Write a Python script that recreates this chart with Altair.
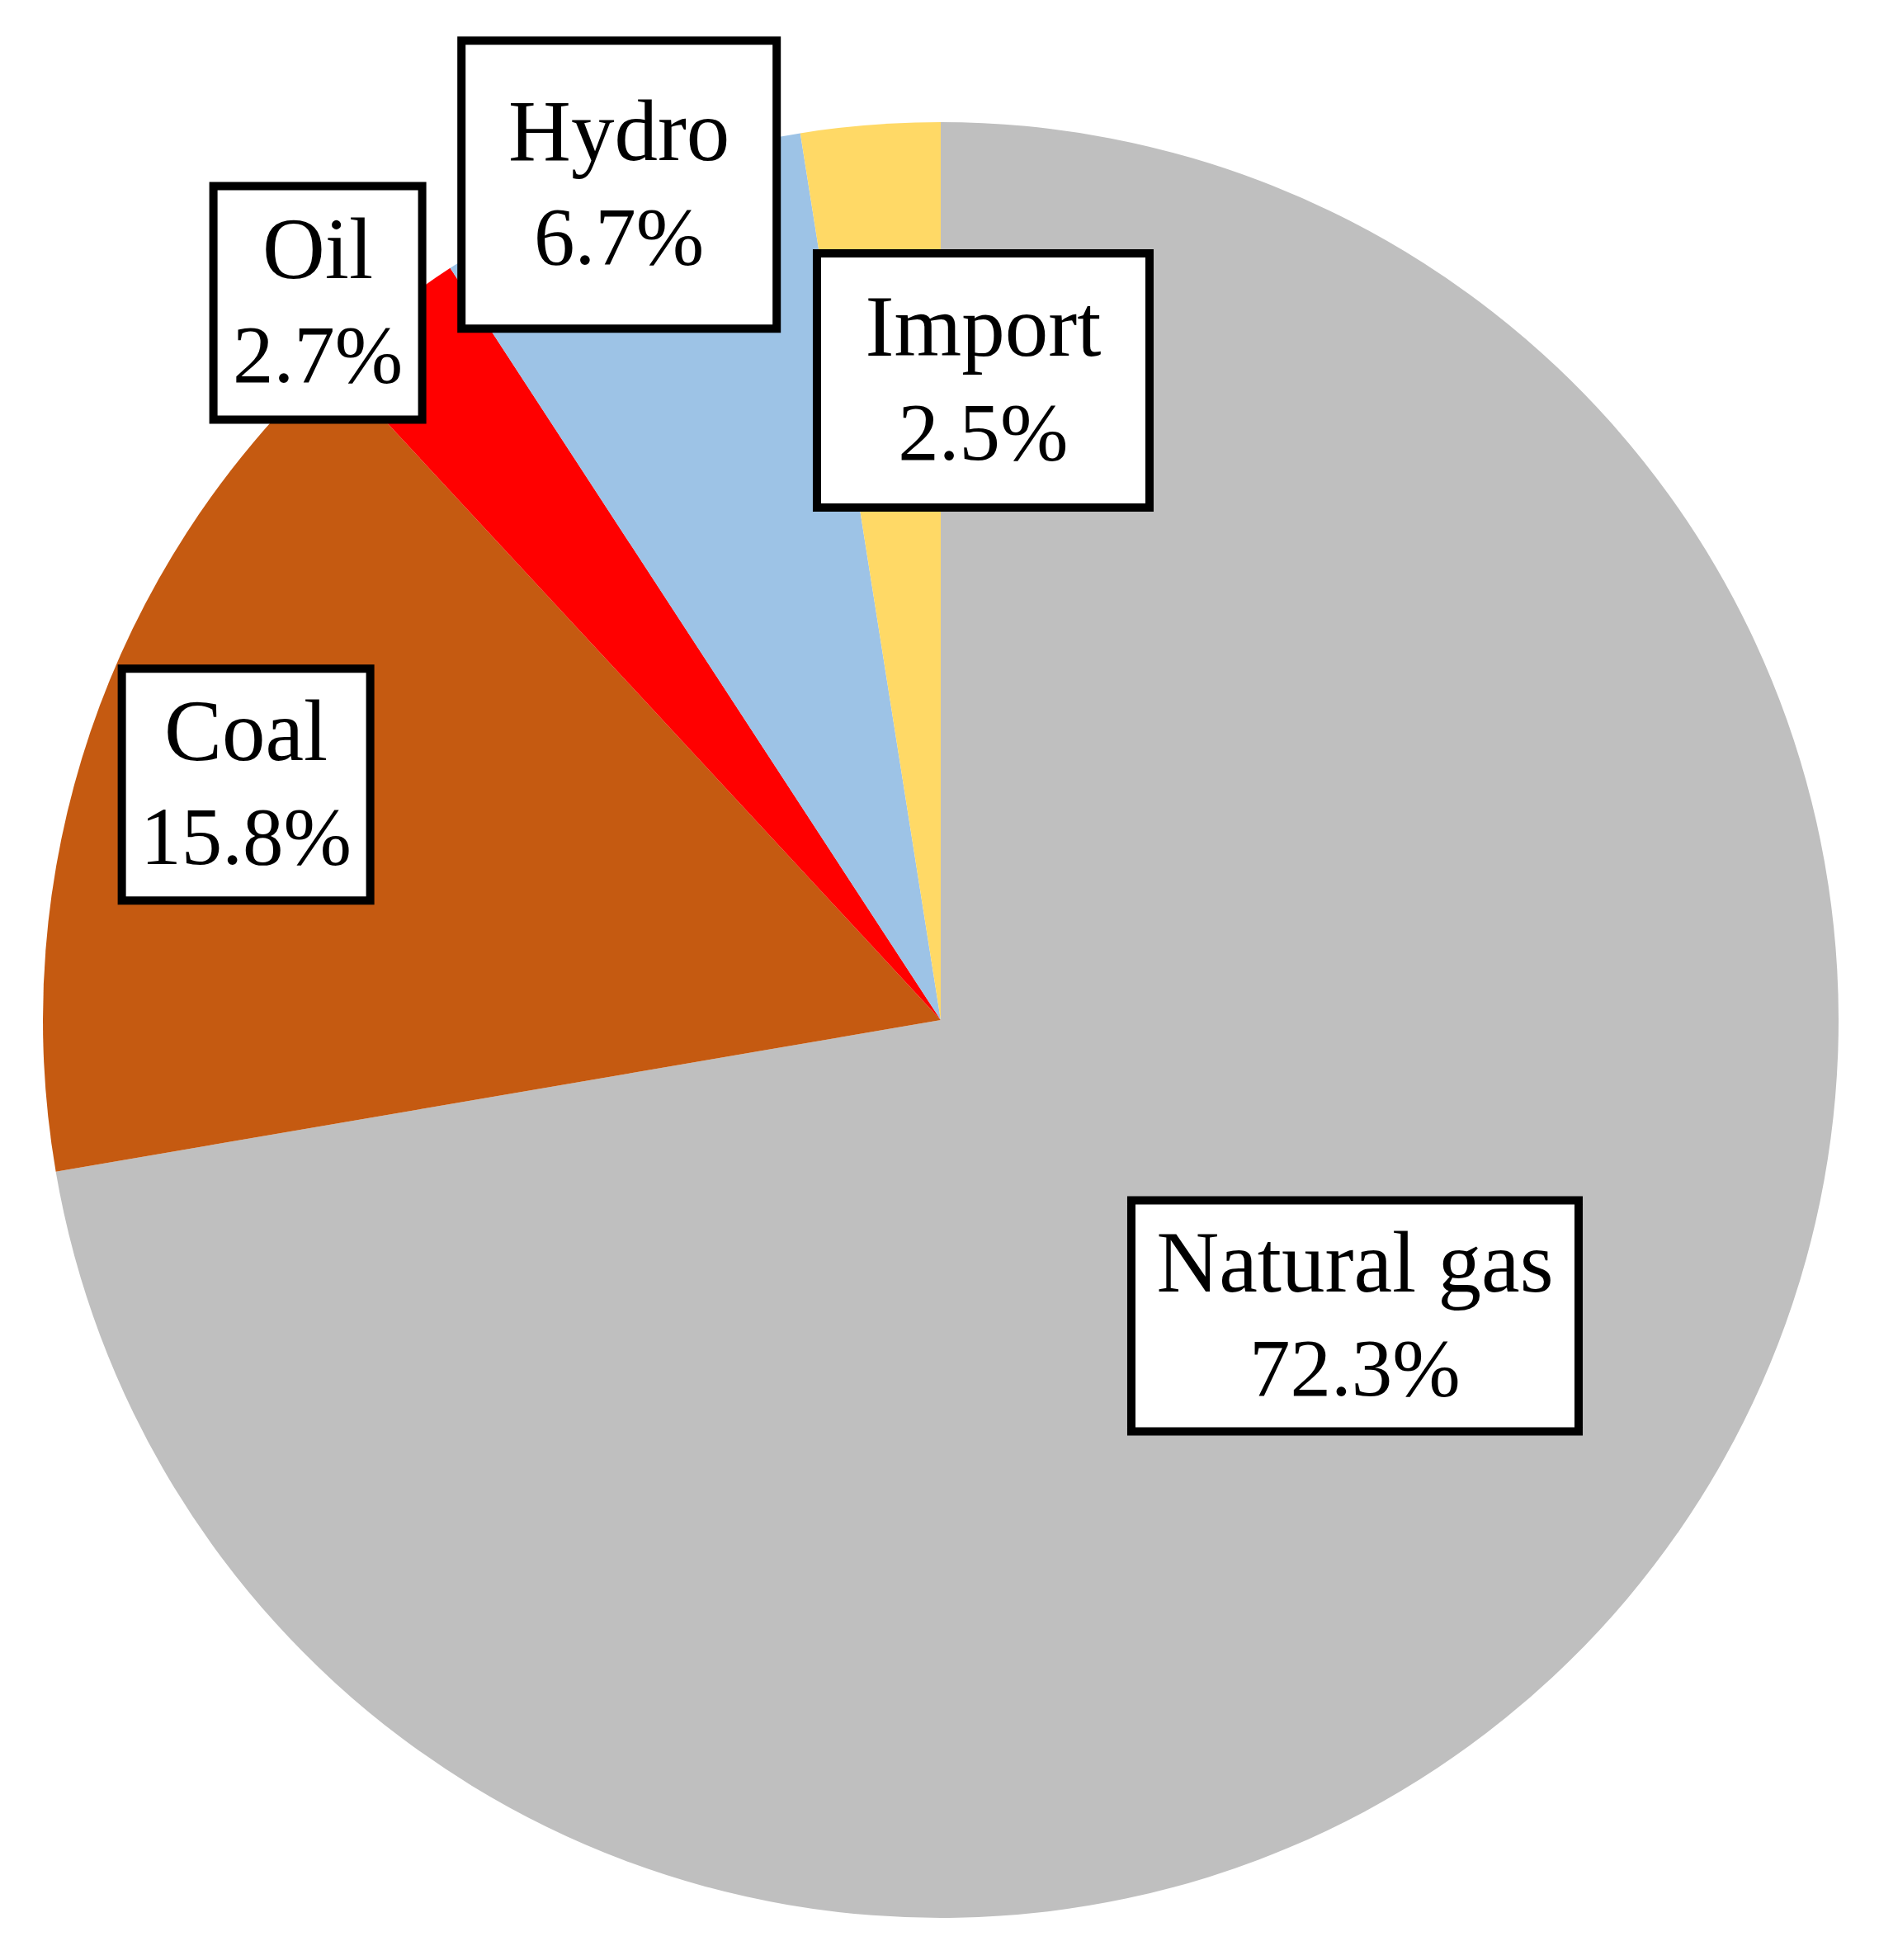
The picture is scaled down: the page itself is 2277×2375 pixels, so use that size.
import math
import altair as alt
import pandas as pd

# ---- data ----
categories = ["Natural gas", "Coal", "Oil", "Hydro", "Import"]
shares = [72.3, 15.8, 2.7, 6.7, 2.5]
colors = ["#BFBFBF", "#C55A11", "#FF0000", "#9DC3E6", "#FFD966"]

# ---- label layout (radial fraction of pie radius, angular nudge from slice middle) ----
label_radius = [0.567, 0.817, 1.058, 0.997, 0.714]
label_nudge_deg = [-4.6, 0.0, -3.0, 0.0, 8.3]
box_w = [542, 301, 253, 382, 403]
box_h = [280, 281, 283, 349, 308]

R = 1088
total = sum(shares)
rows = []
cum = 0.0
for i, (c, s) in enumerate(zip(categories, shares)):
    mid = (cum + s / 2) / total * 360.0
    cum += s
    a = math.radians(mid + label_nudge_deg[i])
    ux = label_radius[i] * math.sin(a)
    uy = label_radius[i] * math.cos(a)
    hw = box_w[i] / 2 / R
    hh = box_h[i] / 2 / R
    rows.append(dict(cat=c, share=s, idx=i, pct=f"{s:.1f}%",
                     x=ux, y=uy, x0=ux - hw, x1=ux + hw, y0=uy - hh, y1=uy + hh))
df = pd.DataFrame(rows)

xs = alt.Scale(domain=[-1, 1], nice=False, zero=False)
ys = alt.Scale(domain=[-1, 1], nice=False, zero=False)

base = alt.Chart(df)

pie = base.mark_arc(outerRadius=R).encode(
    theta=alt.Theta("share:Q", stack=True),
    color=alt.Color("cat:N", scale=alt.Scale(domain=categories, range=colors), legend=None),
    order=alt.Order("idx:Q"),
)

boxes = base.mark_rect(fill="white", stroke="black", strokeWidth=10, strokeJoin="miter").encode(
    x=alt.X("x0:Q", scale=xs, axis=None),
    x2="x1:Q",
    y=alt.Y("y0:Q", scale=ys, axis=None),
    y2="y1:Q",
)

names = base.mark_text(
    font="Liberation Serif", fontSize=105,
    align="center", baseline="alphabetic", color="black", dy=-30,
).encode(
    x=alt.X("x:Q", scale=xs, axis=None),
    y=alt.Y("y:Q", scale=ys, axis=None),
    text="cat:N",
)

pcts = base.mark_text(
    font="Liberation Serif", fontSize=99,
    align="center", baseline="alphabetic", color="black", dy=96,
).encode(
    x=alt.X("x:Q", scale=xs, axis=None),
    y=alt.Y("y:Q", scale=ys, axis=None),
    text="pct:N",
)

chart = alt.layer(pie, boxes, names, pcts).properties(
    width=2176, height=2176,
    padding={"left": 44, "top": 140, "right": 41, "bottom": 43},
    autosize=alt.AutoSizeParams(type="none"),
).configure_view(strokeWidth=0)

chart.save("out.html", embed_options={"renderer": "svg", "actions": False})
